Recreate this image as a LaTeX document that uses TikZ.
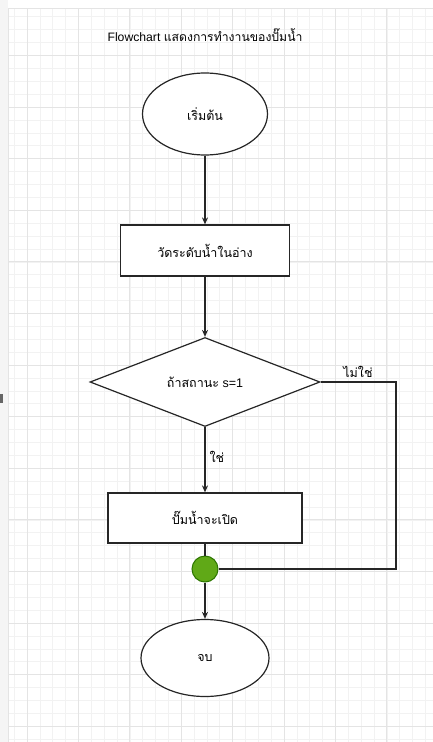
\documentclass[tikz,border=0pt]{standalone}
\usepackage{fontspec}
\setmainfont{Liberation Sans}
\newfontfamily\thaifont[Script=Thai]{Loma}
\usetikzlibrary{shapes.geometric,arrows.meta}
\definecolor{gridmajor}{HTML}{E4E4E4}
\definecolor{gridminor}{HTML}{F2F2F2}
\definecolor{okgreen}{HTML}{60A917}
\definecolor{okgreenline}{HTML}{2D7600}
\tikzset{
  minorline/.style={draw=gridminor, line width=0.6pt},
  majorline/.style={draw=gridmajor, line width=0.8pt},
  shapeline/.style={draw=black!85, line width=1.2pt, fill=white},
  termbox/.style={shapeline, ellipse, inner sep=0pt, font=\thaifont\fontsize{12.5}{14}\selectfont},
  procbox/.style={shapeline, rectangle, inner sep=0pt, font=\thaifont\fontsize{12.5}{14}\selectfont},
  decbox/.style={shapeline, diamond, inner sep=0pt, aspect=2.58, font=\fontsize{12.5}{14}\selectfont},
  joinpt/.style={circle, fill=okgreen, draw=okgreenline, line width=1pt, minimum size=26pt, inner sep=0pt},
  conn/.style={draw=black!85, line width=1.2pt},
  arr/.style={conn, -{Stealth[length=7pt,width=6pt]}},
  lbl/.style={font=\thaifont\fontsize{12.5}{14}\selectfont, inner sep=1pt}
}
\begin{document}
\begin{tikzpicture}[x=1pt,y=-1pt]
\useasboundingbox (0,0) rectangle (433,742);
\fill[white] (0,0) rectangle (433,742);
\fill[black!4] (0,0) rectangle (8,742);
% minor grid
\foreach \k in {-1,...,32} {
  \pgfmathsetmacro\xx{27+12.85*\k}
  \draw[minorline] (\xx,8) -- (\xx,742);
}
\foreach \k in {-27,...,29} {
  \pgfmathsetmacro\yy{365+12.9*\k}
  \draw[minorline] (8,\yy) -- (433,\yy);
}
% major grid
\foreach \k in {0,...,8} {
  \pgfmathsetmacro\xx{27+51.4*\k}
  \draw[majorline] (\xx,8) -- (\xx,742);
}
\foreach \k in {-6,...,7} {
  \pgfmathsetmacro\yy{365+51.6*\k}
  \draw[majorline] (8,\yy) -- (433,\yy);
}
\draw[majorline] (8,8) -- (433,8);
\draw[majorline] (8,8) -- (8,742);
\fill[black!60] (0,394) rectangle (2.5,403);

% title
\node[inner sep=0pt, font=\fontsize{12.2}{14}\selectfont] (title) at (205,35) {Flowchart {\thaifont แสดงการทำงานของปั๊มน้ำ}};

% nodes
\node[termbox, minimum width=125pt, minimum height=82pt] (start) at (205,114) {เริ่มต้น};
\node[procbox, minimum width=169pt, minimum height=51pt] (measure) at (205,250.5) {วัดระดับน้ำในอ่าง};
\node[decbox, minimum width=230pt, minimum height=89pt] (check) at (205,382) {{\thaifont ถ้าสถานะ} s=1};
\node[procbox, minimum width=194pt, minimum height=50pt] (pump) at (205,518) {ปั๊มน้ำจะเปิด};
\node[joinpt] (join) at (205,569) {};
\node[termbox, minimum width=128pt, minimum height=77pt] (stop) at (205,658) {จบ};
\coordinate (rtop) at (396,382);
\coordinate (rbot) at (396,569);

% connectors
\draw[arr] (start) -- (measure);
\draw[arr] (measure) -- (check);
\draw[arr] (check) -- node[lbl, pos=0.45, anchor=west, xshift=3pt] {ใช่} (pump);
\draw[conn] (pump) -- (join);
\draw[arr] (join) -- (stop);
\draw[conn] (check.east) -- (rtop) -- (rbot) -- (join.east);
\node[lbl] (nolbl) at (358,372) {ไม่ใช่};
\end{tikzpicture}
\end{document}
